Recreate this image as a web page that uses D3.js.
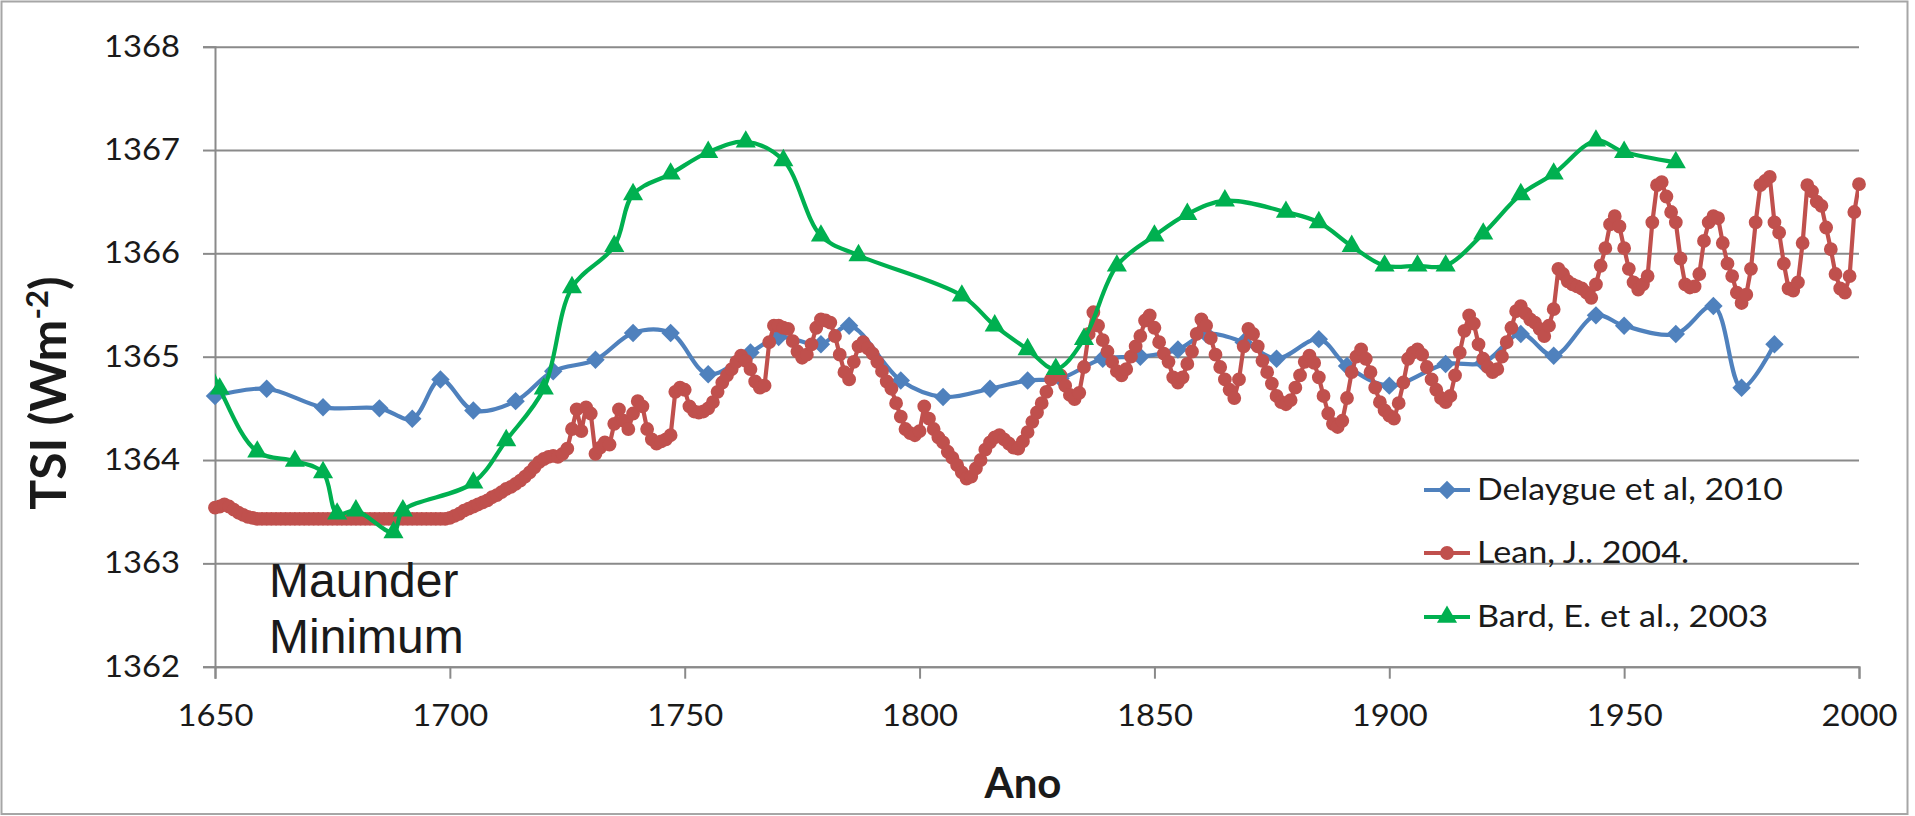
<!DOCTYPE html>
<html>
<head>
<meta charset="utf-8">
<title>TSI reconstructions</title>
<script src="https://d3js.org/d3.v7.min.js"></script>
<style>
  body { margin: 0; background: #fff; }
  svg text { font-family: Lato, "Open Sans", sans-serif; fill: #1a1a1a; }
</style>
</head>
<body>

<svg id="tsi-chart"></svg>

<script>

// Delaygue et al, 2010
let delaygueYears = [1650, 1661, 1673, 1685, 1692, 1698, 1705, 1714, 1722, 1731,
  1739, 1747, 1755, 1764, 1770, 1779, 1785, 1796, 1805, 1815,
  1823, 1830, 1839, 1847, 1855, 1861, 1869, 1876, 1885, 1891,
  1900, 1912, 1920, 1928, 1935, 1944, 1950, 1961, 1969, 1975, 1982];
let delaygueValues = [1364.62, 1364.69, 1364.51, 1364.50, 1364.40, 1364.78, 1364.48, 1364.57, 1364.86, 1364.97,
  1365.23, 1365.23, 1364.83, 1365.04, 1365.19, 1365.12, 1365.30, 1364.77, 1364.61, 1364.69,
  1364.77, 1364.79, 1364.98, 1365.00, 1365.07, 1365.22, 1365.14, 1364.98, 1365.17, 1364.91,
  1364.72, 1364.93, 1364.94, 1365.22, 1365.01, 1365.40, 1365.30, 1365.22, 1365.49, 1364.70, 1365.12];

// Bard, E. et al., 2003 (first point lies left of the axis, only its line shows)
let bardYears = [1645, 1651, 1659, 1667, 1673, 1676, 1680, 1688, 1690, 1705,
  1712, 1720, 1726, 1735, 1739, 1747, 1755, 1763, 1771, 1779,
  1787, 1809, 1816, 1823, 1829, 1835, 1842, 1850, 1857, 1865,
  1878, 1885, 1892, 1899, 1906, 1912, 1920, 1928, 1935, 1944, 1950, 1961];
let bardValues = [1365.40, 1364.69, 1364.08, 1363.99, 1363.88, 1363.48, 1363.51, 1363.30, 1363.51, 1363.78,
  1364.19, 1364.69, 1365.67, 1366.07, 1366.57, 1366.77, 1366.98, 1367.08, 1366.90, 1366.17,
  1365.98, 1365.59, 1365.30, 1365.07, 1364.88, 1365.17, 1365.88, 1366.17, 1366.38, 1366.51,
  1366.40, 1366.30, 1366.07, 1365.88, 1365.88, 1365.88, 1366.19, 1366.57, 1366.77, 1367.09, 1366.98, 1366.88];

// Lean, J. 2004 - one value per year from 1650 to 2000
let leanStart = 1650;
let leanValues = [
  1363.54, 1363.55, 1363.57, 1363.55, 1363.52, 1363.49, 1363.47, 1363.45, 1363.44, 1363.43, // 1650
  1363.43, 1363.43, 1363.43, 1363.43, 1363.43, 1363.43, 1363.43, 1363.43, 1363.43, 1363.43, // 1660
  1363.43, 1363.43, 1363.43, 1363.43, 1363.43, 1363.43, 1363.43, 1363.43, 1363.43, 1363.43, // 1670
  1363.43, 1363.43, 1363.43, 1363.43, 1363.43, 1363.43, 1363.43, 1363.43, 1363.43, 1363.43, // 1680
  1363.43, 1363.43, 1363.43, 1363.43, 1363.43, 1363.43, 1363.43, 1363.43, 1363.43, 1363.43, // 1690
  1363.44, 1363.46, 1363.48, 1363.51, 1363.53, 1363.55, 1363.57, 1363.59, 1363.61, 1363.64, // 1700
  1363.66, 1363.69, 1363.72, 1363.74, 1363.77, 1363.80, 1363.84, 1363.88, 1363.93, 1363.98, // 1710
  1364.01, 1364.03, 1364.04, 1364.03, 1364.06, 1364.11, 1364.30, 1364.49, 1364.28, 1364.51, // 1720
  1364.45, 1364.06, 1364.12, 1364.17, 1364.15, 1364.35, 1364.49, 1364.38, 1364.30, 1364.45, // 1730
  1364.57, 1364.52, 1364.30, 1364.20, 1364.16, 1364.18, 1364.20, 1364.24, 1364.66, 1364.70, // 1740
  1364.68, 1364.52, 1364.47, 1364.46, 1364.47, 1364.50, 1364.56, 1364.66, 1364.75, 1364.82, // 1750
  1364.88, 1364.95, 1365.01, 1364.96, 1364.88, 1364.76, 1364.70, 1364.72, 1365.14, 1365.30, // 1760
  1365.30, 1365.28, 1365.27, 1365.15, 1365.05, 1364.99, 1365.02, 1365.12, 1365.28, 1365.36, // 1770
  1365.35, 1365.33, 1365.20, 1365.02, 1364.85, 1364.78, 1364.95, 1365.10, 1365.14, 1365.08, // 1780
  1365.03, 1364.95, 1364.86, 1364.76, 1364.69, 1364.55, 1364.42, 1364.30, 1364.26, 1364.24, // 1790
  1364.28, 1364.52, 1364.40, 1364.30, 1364.22, 1364.17, 1364.08, 1364.02, 1363.95, 1363.88, // 1800
  1363.82, 1363.84, 1363.92, 1364.00, 1364.10, 1364.17, 1364.22, 1364.24, 1364.20, 1364.16, // 1810
  1364.12, 1364.11, 1364.18, 1364.27, 1364.37, 1364.46, 1364.55, 1364.66, 1364.78, 1364.84, // 1820
  1364.82, 1364.72, 1364.63, 1364.59, 1364.65, 1364.90, 1365.22, 1365.43, 1365.30, 1365.16, // 1830
  1365.05, 1364.95, 1364.86, 1364.82, 1364.88, 1365.00, 1365.10, 1365.20, 1365.35, 1365.40, // 1840
  1365.28, 1365.14, 1365.03, 1364.95, 1364.80, 1364.75, 1364.80, 1364.93, 1365.05, 1365.22, // 1850
  1365.36, 1365.30, 1365.18, 1365.02, 1364.90, 1364.78, 1364.68, 1364.60, 1364.78, 1365.10, // 1860
  1365.27, 1365.22, 1365.10, 1364.96, 1364.85, 1364.74, 1364.62, 1364.56, 1364.54, 1364.58, // 1870
  1364.70, 1364.82, 1364.95, 1365.01, 1364.94, 1364.80, 1364.62, 1364.45, 1364.35, 1364.32, // 1880
  1364.38, 1364.60, 1364.85, 1365.00, 1365.07, 1364.98, 1364.85, 1364.70, 1364.56, 1364.48, // 1890
  1364.43, 1364.40, 1364.55, 1364.75, 1364.98, 1365.04, 1365.07, 1365.02, 1364.90, 1364.78, // 1900
  1364.68, 1364.60, 1364.56, 1364.62, 1364.82, 1365.04, 1365.25, 1365.40, 1365.32, 1365.12, // 1910
  1364.98, 1364.90, 1364.85, 1364.88, 1365.00, 1365.14, 1365.28, 1365.44, 1365.49, 1365.42, // 1920
  1365.36, 1365.33, 1365.27, 1365.20, 1365.30, 1365.46, 1365.85, 1365.80, 1365.73, 1365.70, // 1930
  1365.68, 1365.66, 1365.62, 1365.57, 1365.70, 1365.88, 1366.05, 1366.28, 1366.36, 1366.26, // 1940
  1366.05, 1365.85, 1365.72, 1365.65, 1365.70, 1365.78, 1366.30, 1366.66, 1366.69, 1366.55, // 1950
  1366.40, 1366.30, 1365.95, 1365.70, 1365.67, 1365.68, 1365.80, 1366.12, 1366.30, 1366.36, // 1960
  1366.34, 1366.10, 1365.90, 1365.78, 1365.62, 1365.52, 1365.60, 1365.85, 1366.30, 1366.66, // 1970
  1366.70, 1366.74, 1366.30, 1366.20, 1365.90, 1365.66, 1365.64, 1365.72, 1366.10, 1366.66, // 1980
  1366.60, 1366.50, 1366.46, 1366.25, 1366.04, 1365.80, 1365.66, 1365.62, 1365.78, 1366.40, // 1990
  1366.67                                                                                    // 2000
];

let xTicks = [1650, 1700, 1750, 1800, 1850, 1900, 1950, 2000];
let yTicks = [1362, 1363, 1364, 1365, 1366, 1367, 1368];
let seriesNames = ['Delaygue et al, 2010', 'Lean, J.. 2004.', 'Bard, E. et al., 2003'];
let seriesColors = ['#4f81bd', '#c0504d', '#00b050'];

// configuration of svg/plot area
let config = {
  'svg': {},
  'plot': {}
};

config.svg.width = 1915;
config.svg.height = 816;

config.plot.x = 215;
config.plot.y = 46.7;
config.plot.width = 1644;
config.plot.height = 620;

let gridColor = '#8a8a8a';

let svg = d3.select('#tsi-chart')
  .attr('width', config.svg.width)
  .attr('height', config.svg.height);

// chart frame
svg.append('rect')
  .attr('x', 1.5).attr('y', 1.5)
  .attr('width', 1906).attr('height', 812.5)
  .attr('fill', 'none')
  .attr('stroke', '#a6a6a6')
  .attr('stroke-width', 2);

let x = d3.scaleLinear()
  .domain([1650, 2000])
  .range([0, config.plot.width]);

let y = d3.scaleLinear()
  .domain([1362, 1368])
  .range([config.plot.height, 0]);

let plot = svg.append('g')
  .attr('id', 'plot')
  .attr('transform', translate(config.plot.x, config.plot.y));

// horizontal gridlines
let grid = plot.append('g')
  .call(d3.axisLeft(y).tickValues(yTicks).tickSize(-config.plot.width).tickFormat(''));
grid.select('.domain').remove();
grid.selectAll('line').attr('stroke', gridColor).attr('stroke-width', 2);

// y axis
let yAxis = plot.append('g')
  .call(d3.axisLeft(y).tickValues(yTicks).tickSize(12).tickPadding(23).tickFormat(d3.format('d')));

// x axis
let xAxis = plot.append('g')
  .attr('transform', translate(0, config.plot.height))
  .call(d3.axisBottom(x).tickValues(xTicks).tickSize(12).tickPadding(26).tickFormat(d3.format('d')));

[yAxis, xAxis].forEach(function(axis) {
  axis.select('.domain').attr('stroke', gridColor).attr('stroke-width', 2);
  axis.selectAll('.tick line').attr('stroke', gridColor).attr('stroke-width', 2);
  axis.selectAll('.tick text')
    .attr('fill', '#1a1a1a')
    .style('font-family', 'Lato, sans-serif')
    .style('font-size', '30px')
    .attr('textLength', 76)
    .attr('lengthAdjust', 'spacingAndGlyphs');
});

// clip so the Bard line stops at the axes
plot.append('clipPath')
  .attr('id', 'plot-clip')
  .append('rect')
  .attr('x', 0).attr('y', -40)
  .attr('width', config.plot.width).attr('height', config.plot.height + 80);

let delaygue = delaygueYears.map((d, i) => ({year: d, value: delaygueValues[i]}));
let lean = leanValues.map((v, i) => ({year: leanStart + i, value: v}));
let bard = bardYears.map((d, i) => ({year: d, value: bardValues[i]}));

let smoothLine = d3.line()
  .x(d => x(d.year))
  .y(d => y(d.value))
  .curve(d3.curveCatmullRom.alpha(0.5));

let straightLine = d3.line()
  .x(d => x(d.year))
  .y(d => y(d.value));

let diamond = d3.symbol(d3.symbolSquare, 170);
let circle = d3.symbol(d3.symbolCircle, 150);
let triangle = d3.symbol(d3.symbolTriangle, 175);

function drawSeries(data, lineGen, color, symbol, rotate) {
  let g = plot.append('g');
  g.append('path')
    .datum(data)
    .attr('clip-path', 'url(#plot-clip)')
    .attr('fill', 'none')
    .attr('stroke', color)
    .attr('stroke-width', 4.2)
    .attr('stroke-linejoin', 'round')
    .attr('d', lineGen);
  g.selectAll('path.marker')
    .data(data.filter(d => d.year >= 1650 && d.year <= 2000))
    .enter().append('path')
    .attr('class', 'marker')
    .attr('fill', color)
    .attr('d', symbol)
    .attr('transform', d => translate(x(d.year), y(d.value)) + (rotate ? ' rotate(45)' : ''));
}

drawSeries(delaygue, smoothLine, seriesColors[0], diamond, true);
drawSeries(lean, straightLine, seriesColors[1], circle, false);
drawSeries(bard, smoothLine, seriesColors[2], triangle, false);

// legend
let legendRows = [490, 553, 617];
let legendWidths = [306, 212, 291];
let legendSymbols = [diamond, circle, triangle];
let legend = svg.append('g').attr('id', 'legend');
seriesNames.forEach(function(name, i) {
  let row = legend.append('g').attr('transform', translate(1424, legendRows[i]));
  row.append('line')
    .attr('x1', 0).attr('x2', 46)
    .attr('stroke', seriesColors[i])
    .attr('stroke-width', 4.2);
  row.append('path')
    .attr('d', legendSymbols[i])
    .attr('fill', seriesColors[i])
    .attr('transform', translate(23, 0) + (i == 0 ? ' rotate(45)' : ''));
  row.append('text')
    .attr('x', 53)
    .attr('y', 10)
    .style('font-size', '30px')
    .attr('textLength', legendWidths[i])
    .attr('lengthAdjust', 'spacingAndGlyphs')
    .text(name);
});

// axis titles
svg.append('text')
  .attr('x', 1023)
  .attr('y', 798)
  .attr('text-anchor', 'middle')
  .style('font-size', '42px')
  .style('font-weight', 'bold')
  .text('Ano');

let yTitle = svg.append('text')
  .attr('transform', translate(66, 393) + ' rotate(-90)')
  .attr('text-anchor', 'middle')
  .style('font-size', '50px')
  .style('font-weight', 'bold');
yTitle.append('tspan').text('TSI (Wm');
yTitle.append('tspan').attr('dy', -18).style('font-size', '31px').text('-2');
yTitle.append('tspan').attr('dy', 18).text(')');

// annotation
let note = svg.append('text')
  .style('font-family', '"Liberation Sans", Arial, sans-serif')
  .style('font-size', '48px')
  .attr('fill', '#000');
note.append('tspan').attr('x', 269).attr('y', 597).text('Maunder');
note.append('tspan').attr('x', 269).attr('y', 653).text('Minimum');

// helper method to make translating easier
function translate(x, y) {
  return 'translate(' + x + ',' + y + ')';
}

</script>
</body>
</html>
